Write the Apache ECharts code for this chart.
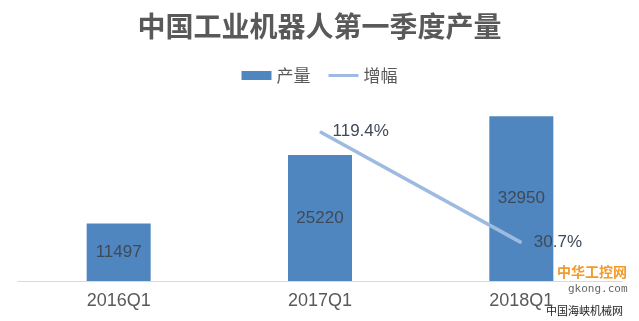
<!DOCTYPE html>
<html><head><meta charset="utf-8">
<script src="https://cdn.jsdelivr.net/npm/echarts@6/dist/echarts.min.js"></script>
<style>html,body{margin:0;padding:0;background:#fff}#c{width:639px;height:321px}</style>
</head><body><div id="c"></div>
<script>
const categories = ['2016Q1', '2017Q1', '2018Q1'];
const output = [11497, 25220, 32950];
const growth = [null, 119.4, 30.7];
const titleText = '中国工业机器人第一季度产量';
const seriesNames = ['产量', '增幅'];

const font = '"Liberation Sans", "Noto Sans CJK SC", sans-serif';
const chart = echarts.init(document.getElementById('c'), null, {renderer: 'canvas'});
chart.setOption({
  backgroundColor: '#fff',
  animation: false,
  title: {
    text: titleText, left: 'center', top: 7,
    textStyle: {fontFamily: '"Noto Sans CJK SC", sans-serif', fontSize: 28, fontWeight: 'bold', color: '#595959'}
  },
  legend: {
    top: 62, left: 'center', itemGap: 18, itemWidth: 30, itemHeight: 9,
    textStyle: {fontFamily: '"Noto Sans CJK SC", sans-serif', fontSize: 17, color: '#595959'},
    data: [
      {name: seriesNames[0], icon: 'rect'},
      {name: seriesNames[1], icon: 'path://M0,0h30v3h-30z', itemStyle: {color: '#9dbbe0'}}
    ]
  },
  grid: {left: 18, right: 17, top: 106, bottom: 40, containLabel: false},
  xAxis: {
    type: 'category', data: categories,
    axisLine: {lineStyle: {color: '#d9d9d9', width: 1}},
    axisTick: {show: false},
    axisLabel: {fontFamily: font, fontSize: 18, color: '#595959', margin: 11}
  },
  yAxis: [
    {type: 'value', min: 0, max: 35000, show: false, splitLine: {show: false}},
    {type: 'value', min: 0, max: 140, show: false, splitLine: {show: false}}
  ],
  series: [
    {
      name: seriesNames[0], type: 'bar', data: output, barWidth: 64,
      itemStyle: {color: '#4f86bf'},
      label: {show: true, position: 'inside', fontFamily: font, fontSize: 17, color: '#3f4a58'}
    },
    {
      name: seriesNames[1], type: 'line', yAxisIndex: 1, data: growth,
      symbol: 'circle', symbolSize: 1, showSymbol: true, lineStyle: {color: '#9dbbe0', width: 3.5},
      itemStyle: {color: '#9dbbe0'},
      label: {show: true, position: 'right', distance: 12, fontFamily: font, fontSize: 17, color: '#3f4a58',
        formatter: p => p.value.toFixed(1) + '%'}
    }
  ],
  graphic: [
    {type: 'text', left: 557, top: 265, style: {text: '中华工控网', fontFamily: '"Noto Sans CJK SC", sans-serif', fontSize: 14, fontWeight: 'bold', fill: '#f39a2a'}},
    {type: 'text', left: 568, top: 284, style: {text: 'gkong.com', fontFamily: '"DejaVu Sans Mono", monospace', fontSize: 11, fill: '#666'}},
    {type: 'text', left: 546, top: 305, style: {text: '中国海峡机械网', fontFamily: '"Noto Sans CJK SC", sans-serif', fontSize: 11, fill: '#222'}}
  ]
});
</script></body></html>
